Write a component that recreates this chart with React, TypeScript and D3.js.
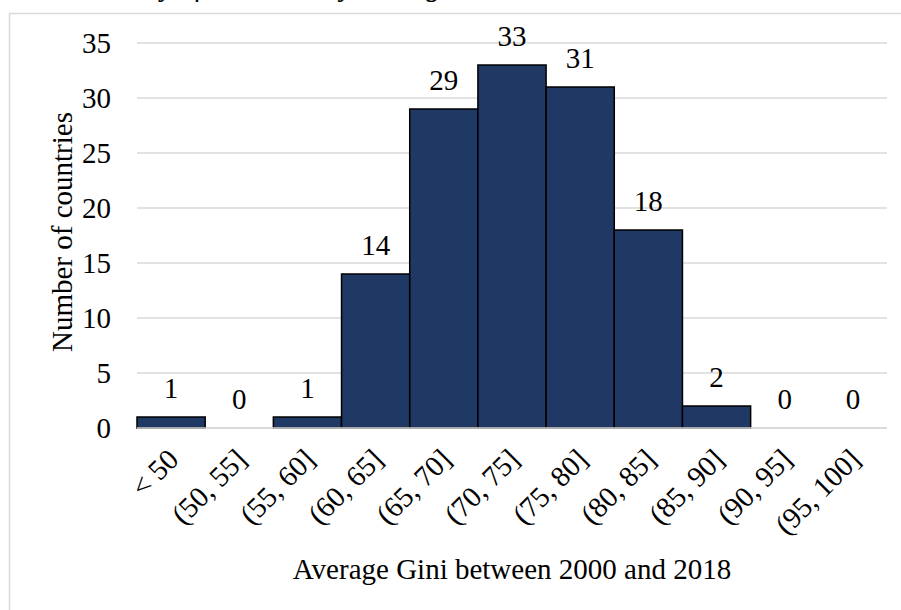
import React from "react";
import * as d3 from "d3";

const categories = ["< 50", "(50, 55]", "(55, 60]", "(60, 65]", "(65, 70]", "(70, 75]", "(75, 80]", "(80, 85]", "(85, 90]", "(90, 95]", "(95, 100]"];
const counts = [1, 0, 1, 14, 29, 33, 31, 18, 2, 0, 0];
const yTicks = [0, 5, 10, 15, 20, 25, 30, 35];
const titleText = "Density of countries by average Gini";
const xTitle = "Average Gini between 2000 and 2018";
const yTitle = "Number of countries";

const W = 901;
const H = 610;
const margin = { left: 137, right: 14, top: 43, bottom: 182 };
const FONT = "'Liberation Serif', 'Times New Roman', serif";

export default function App() {
  const x = d3
    .scaleBand<string>()
    .domain(categories)
    .range([margin.left, W - margin.right])
    .padding(0);
  const y = d3.scaleLinear().domain([0, 35]).range([H - margin.bottom, margin.top]);
  const bw = x.bandwidth();
  const y0 = y(0);

  return (
    <svg
      width={W}
      height={H}
      style={{ position: "absolute", left: 0, top: 0, background: "#fff" }}
      fontFamily={FONT}
    >
      <rect x={0} y={0} width={W} height={H} fill="#fff" />
      <text x={85} y={-4} fontSize={29} fontStyle="italic" fill="#000">
        {titleText}
      </text>
      <rect x={9.5} y={13.5} width={W + 10} height={H + 10} fill="none" stroke="#d9d9d9" strokeWidth={1.5} />
      {yTicks.map((t) => (
        <g key={t}>
          <line x1={margin.left} x2={W - margin.right} y1={y(t)} y2={y(t)} stroke="#d9d9d9" strokeWidth={1.3} />
          <text x={111} y={y(t)} dy="0.35em" textAnchor="end" fontSize={29} fill="#000">
            {t}
          </text>
        </g>
      ))}
      {categories.map((c, i) => {
        const v = counts[i];
        const bx = x(c)!;
        return (
          <g key={c}>
            {v > 0 && (
              <rect x={bx} y={y(v)} width={bw} height={y0 - y(v)} fill="#203864" stroke="#000" strokeWidth={1.5} />
            )}
            <text x={bx + bw / 2} y={y(v) - 19} textAnchor="middle" fontSize={29} fill="#000">
              {v}
            </text>
          </g>
        );
      })}
      <line x1={margin.left} x2={W - margin.right} y1={y0} y2={y0} stroke="#d9d9d9" strokeWidth={1.3} />
      {categories.map((c) => {
        const cx = x(c)! + bw / 2 + 2;
        return (
          <text
            key={"l" + c}
            transform={`translate(${cx},${y0 + 26}) rotate(-45)`}
            textAnchor="end"
            dy="0.35em"
            fontSize={29}
            fill="#000"
          >
            {c}
          </text>
        );
      })}
      <text x={512} y={579} textAnchor="middle" fontSize={29} fill="#000">
        {xTitle}
      </text>
      <text transform={`translate(72,232) rotate(-90)`} textAnchor="middle" fontSize={29} fill="#000">
        {yTitle}
      </text>
    </svg>
  );
}
